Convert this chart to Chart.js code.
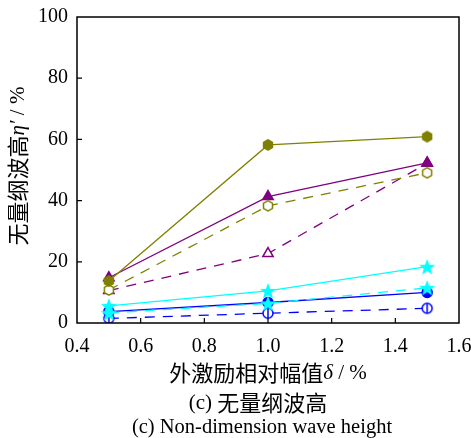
<!DOCTYPE html>
<html>
<head>
<meta charset="utf-8">
<script src="https://cdn.jsdelivr.net/npm/chart.js@4"></script>
<style>
  html, body { margin: 0; padding: 0; background: #fff; }
  #wrap { width: 471px; height: 438px; }
</style>
</head>
<body>
<div id="wrap"><canvas id="chart" width="471" height="438"></canvas></div>
<script>
// excitation amplitude delta (%)
const xValues = [0.5, 1.0, 1.5];
const xTicks = [0.4, 0.6, 0.8, 1.0, 1.2, 1.4, 1.6];
const yTicks = [0, 20, 40, 60, 80, 100];

// non-dimension wave height eta' (%)
const oliveSolid = [13.7, 58.2, 60.9];
const oliveDashed = [10.8, 38.3, 49.1];
const purpleSolid = [14.8, 41.3, 52.3];
const purpleDashed = [10.6, 22.7, 52.2];
const cyanSolid = [5.6, 10.5, 18.4];
const cyanDashed = [3.3, 6.4, 11.5];
const blueSolid = [3.7, 6.7, 10.0];
const blueDashed = [1.5, 3.2, 4.8];

const SERIF = '"Liberation Serif", "Times New Roman", serif';
const CJK = '"Noto Sans CJK SC", sans-serif';

// little canvases used as point styles
function makeMarker(size, draw) {
    const c = document.createElement('canvas');
    c.width = size;
    c.height = size;
    draw(c.getContext('2d'), size / 2);
    return c;
}

function hexPath(g, cx, r) {
    g.beginPath();
    for (let i = 0; i < 6; i++) {
        const a = Math.PI / 6 + i * Math.PI / 3;
        const px = cx + r * Math.cos(a), py = cx + r * Math.sin(a);
        if (i === 0) g.moveTo(px, py); else g.lineTo(px, py);
    }
    g.closePath();
}

function starPath(g, cx, r) {
    g.beginPath();
    for (let i = 0; i < 10; i++) {
        const rr = i % 2 === 0 ? r : r * 0.42;
        const a = -Math.PI / 2 + i * Math.PI / 5;
        const px = cx + rr * Math.cos(a), py = cx + 0.8 + rr * Math.sin(a);
        if (i === 0) g.moveTo(px, py); else g.lineTo(px, py);
    }
    g.closePath();
}

const hexFilled = makeMarker(14, (g, c) => { hexPath(g, c, 6); g.fillStyle = '#808000'; g.fill(); });
const hexOpen = makeMarker(14, (g, c) => {
    hexPath(g, c, 5.2); g.fillStyle = '#fff'; g.fill();
    g.lineWidth = 1.5; g.strokeStyle = '#808000'; g.stroke();
});
const starMark = makeMarker(18, (g, c) => { starPath(g, c, 8.5); g.fillStyle = '#00ffff'; g.fill(); });
const phiMark = makeMarker(14, (g, c) => {
    g.beginPath(); g.arc(c, c, 5, 0, Math.PI * 2);
    g.fillStyle = '#fff'; g.fill();
    g.lineWidth = 1.5; g.strokeStyle = '#0000ff'; g.stroke();
    g.beginPath(); g.moveTo(c, c - 5); g.lineTo(c, c + 5); g.stroke();
});

function series(data, color, dashed, style, extra) {
    return Object.assign({
        data: data.map((v, i) => ({ x: xValues[i], y: v })),
        borderColor: color,
        backgroundColor: color,
        borderWidth: 1.3,
        borderDash: dashed ? [10, 8] : [],
        pointStyle: style,
        pointRadius: 5,
        pointBorderWidth: 1.5,
        pointBackgroundColor: color,
        pointBorderColor: color,
        tension: 0,
        fill: false
    }, extra || {});
}

// inward ticks, frame and all axis/caption text
const framePlugin = {
    id: 'frame',
    afterDraw(chart) {
        const ctx = chart.ctx;
        const a = chart.chartArea;
        const xs = chart.scales.x, ys = chart.scales.y;
        ctx.save();
        ctx.strokeStyle = '#000';
        ctx.lineWidth = 1.5;
        ctx.strokeRect(a.left, a.top, a.right - a.left, a.bottom - a.top);
        ctx.lineWidth = 1.2;
        ctx.beginPath();
        xTicks.slice(1, -1).forEach(v => {
            const px = xs.getPixelForValue(v);
            ctx.moveTo(px, a.bottom); ctx.lineTo(px, a.bottom - 5);
        });
        yTicks.slice(1, -1).forEach(v => {
            const py = ys.getPixelForValue(v);
            ctx.moveTo(a.left, py); ctx.lineTo(a.left + 5, py);
        });
        ctx.stroke();

        ctx.fillStyle = '#000';
        ctx.textBaseline = 'middle';
        const cx = (a.left + a.right) / 2;
        drawRich(ctx, [
            { t: '外激励相对幅值', f: '22px ' + CJK },
            { t: 'δ', f: 'italic 21px ' + SERIF },
            { t: ' / %', f: '21px ' + SERIF }
        ], cx, 373);
        drawRich(ctx, [
            { t: '(c) ', f: '21px ' + SERIF },
            { t: '无量纲波高', f: '22px ' + CJK }
        ], cx - 10, 403);
        drawRich(ctx, [
            { t: '(c) Non-dimension wave height', f: '20.5px ' + SERIF }
        ], cx - 6, 428);

        ctx.translate(18, (a.top + a.bottom) / 2 - 4);
        ctx.rotate(-Math.PI / 2);
        drawRich(ctx, [
            { t: '无量纲波高', f: '22px ' + CJK },
            { t: 'η′', f: 'italic 21px ' + SERIF },
            { t: ' / %', f: '21px ' + SERIF }
        ], 0, 0);
        ctx.restore();
    }
};

function drawRich(ctx, parts, cx, cy) {
    let total = 0;
    parts.forEach(p => { ctx.font = p.f; p.w = ctx.measureText(p.t).width; total += p.w; });
    let x = cx - total / 2;
    ctx.textAlign = 'left';
    parts.forEach(p => { ctx.font = p.f; ctx.fillText(p.t, x, cy); x += p.w; });
}

new Chart(document.getElementById('chart').getContext('2d'), {
    type: 'line',
    data: {
        datasets: [
            series(oliveSolid, '#808000', false, hexFilled),
            series(oliveDashed, '#808000', true, hexOpen),
            series(purpleSolid, '#800080', false, 'triangle', { pointRadius: 6 }),
            series(purpleDashed, '#800080', true, 'triangle', { pointRadius: 6, pointBackgroundColor: '#fff' }),
            series(cyanSolid, '#00ffff', false, starMark),
            series(cyanDashed, '#00ffff', true, starMark),
            series(blueSolid, '#0000ff', false, 'circle', { pointRadius: 5 }),
            series(blueDashed, '#0000ff', true, phiMark)
        ]
    },
    options: {
        responsive: false,
        animation: false,
        layout: { padding: { left: 0, right: 12, top: 17, bottom: 0 } },
        plugins: { legend: { display: false }, tooltip: { enabled: false } },
        scales: {
            x: {
                type: 'linear',
                min: 0.4,
                max: 1.6,
                afterBuildTicks: s => { s.ticks = xTicks.map(v => ({ value: v })); },
                afterFit: s => { s.height = 115; s.paddingLeft = 0; s.paddingRight = 0; },
                grid: { display: false, drawTicks: false },
                border: { display: false },
                ticks: {
                    padding: 12,
                    maxRotation: 0,
                    color: '#000',
                    font: { family: SERIF, size: 20 },
                    callback: v => Number(v).toFixed(1)
                }
            },
            y: {
                min: 0,
                max: 100,
                afterBuildTicks: s => { s.ticks = yTicks.map(v => ({ value: v })); },
                afterFit: s => { s.width = 77; s.paddingTop = 0; s.paddingBottom = 0; },
                grid: { display: false, drawTicks: false },
                border: { display: false },
                ticks: {
                    padding: 9,
                    color: '#000',
                    font: { family: SERIF, size: 20 }
                }
            }
        }
    },
    plugins: [framePlugin]
});
</script>
</body>
</html>
